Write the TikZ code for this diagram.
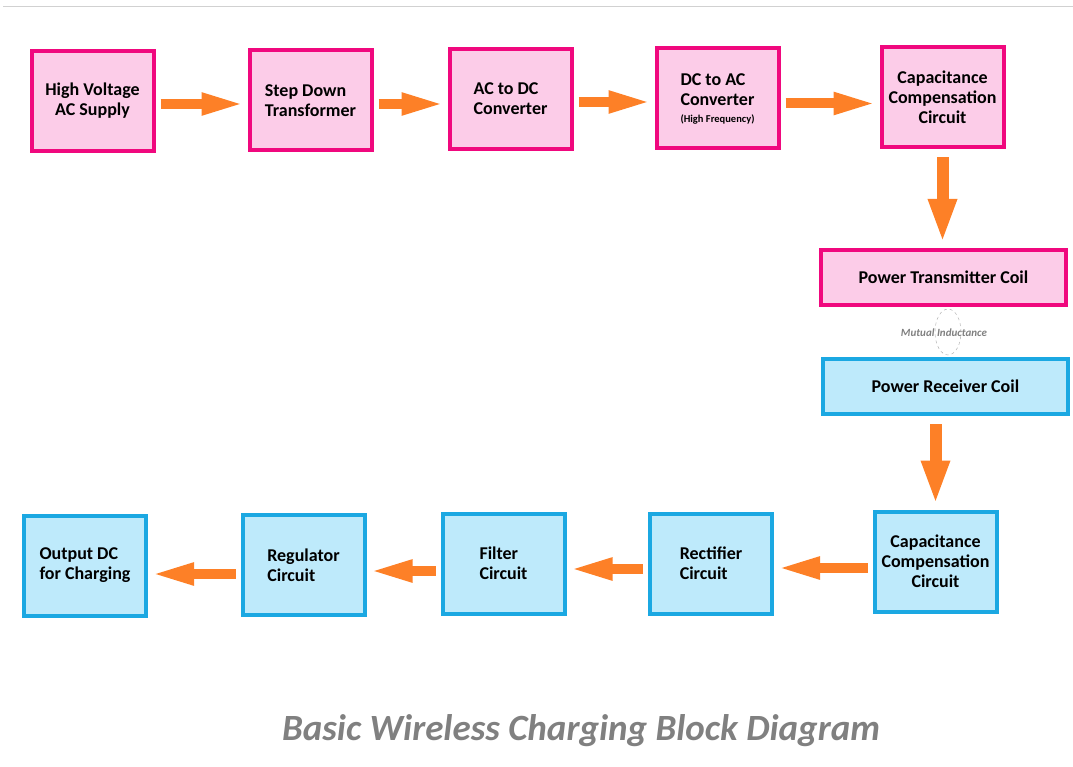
\documentclass[tikz,border=0pt]{standalone}
\usepackage{fontspec}
\setmainfont{Carlito}
\usetikzlibrary{arrows.meta,shapes.geometric}

\definecolor{pinkfill}{RGB}{252,204,232}
\definecolor{pinkline}{RGB}{240,8,126}
\definecolor{bluefill}{RGB}{190,234,251}
\definecolor{blueline}{RGB}{27,168,226}
\definecolor{flowc}{RGB}{253,128,39}

\tikzset{
  block/.style={draw, line width=4pt, minimum width=122pt, minimum height=100pt, inner sep=0pt, text=black, align=left, font=\fontsize{18}{20}\selectfont\bfseries},
  txblock/.style={block, draw=pinkline, fill=pinkfill},
  rxblock/.style={block, draw=blueline, fill=bluefill},
  flow/.style={flowc, line width=10pt, -{Triangle[length=44pt,width=20pt]}, shorten <=5pt, shorten >=2pt},
  flowdown/.style={flowc, line width=12pt, -{Triangle[length=44pt,width=26pt]}, shorten <=8pt, shorten >=5pt}
}

\begin{document}
\begin{tikzpicture}[x=1pt,y=-1pt]
\useasboundingbox (0,0) rectangle (1073,767);

\draw[black!18] (3,6) -- (1073,6);

\node[txblock, align=center] (hv) at (92.5,101) {High Voltage\\AC Supply};
\node[txblock] (sd) at (310.5,100.5) {Step Down\\Transformer};
\node[txblock] (acdc) at (510.5,99) {AC to DC\\Converter};
\node[txblock] (dcac) at (717.5,98.5) {DC to AC\\Converter\\[-3pt]{\fontsize{10.5}{12}\selectfont (High Frequency)}};
\node[txblock, align=center] (captx) at (942.5,97.5) {Capacitance\\Compensation\\Circuit};
\node[txblock, minimum width=245pt, minimum height=55pt] (txcoil) at (943.5,277.5) {Power Transmitter Coil};

\node[draw=gray!70, dashed, ellipse, minimum width=26pt, minimum height=46pt, inner sep=0pt] (mutual) at (948,332) {};
\node[text=gray, font=\fontsize{11}{12}\selectfont\bfseries\itshape] (mutuallabel) at (944,333) {Mutual Inductance};

\node[rxblock, minimum width=245pt, minimum height=55pt] (rxcoil) at (945.5,386.5) {Power Receiver Coil};
\node[rxblock, align=center] (caprx) at (935.5,561.5) {Capacitance\\Compensation\\Circuit};
\node[rxblock] (rect) at (711,563.5) {Rectifier\\Circuit};
\node[rxblock] (filt) at (503.5,563.5) {Filter\\Circuit};
\node[rxblock] (reg) at (303.5,565) {Regulator\\Circuit};
\node[rxblock] (out) at (85,565.5) {Output DC\\for Charging};

\node[text=gray, font=\fontsize{37}{42}\selectfont\bfseries\itshape] (title) at (581,731) {Basic Wireless Charging Block Diagram};

\draw[flow] ([yshift=-3pt]hv.east) -- ([yshift=-3pt]hv.east -| sd.west);
\draw[flow] ([yshift=-3.5pt]sd.east) -- ([yshift=-3.5pt]sd.east -| acdc.west);
\draw[flow] ([yshift=-3pt]acdc.east) -- ([yshift=-3pt]acdc.east -| dcac.west);
\draw[flow] ([yshift=-5pt]dcac.east) -- ([yshift=-5pt]dcac.east -| captx.west);
\draw[flowdown] (captx.south) -- (captx.south |- txcoil.north);
\draw[flowdown] (rxcoil.south -| caprx.north) -- (caprx.north);
\draw[flow] ([yshift=-6.5pt]caprx.west) -- ([yshift=-6.5pt]caprx.west -| rect.east);
\draw[flow] ([yshift=-5.5pt]rect.west) -- ([yshift=-5.5pt]rect.west -| filt.east);
\draw[flow] ([yshift=-7.5pt]filt.west) -- ([yshift=-7.5pt]filt.west -| reg.east);
\draw[flow] ([yshift=-9pt]reg.west) -- ([yshift=-9pt]reg.west -| out.east);

\end{tikzpicture}
\end{document}
